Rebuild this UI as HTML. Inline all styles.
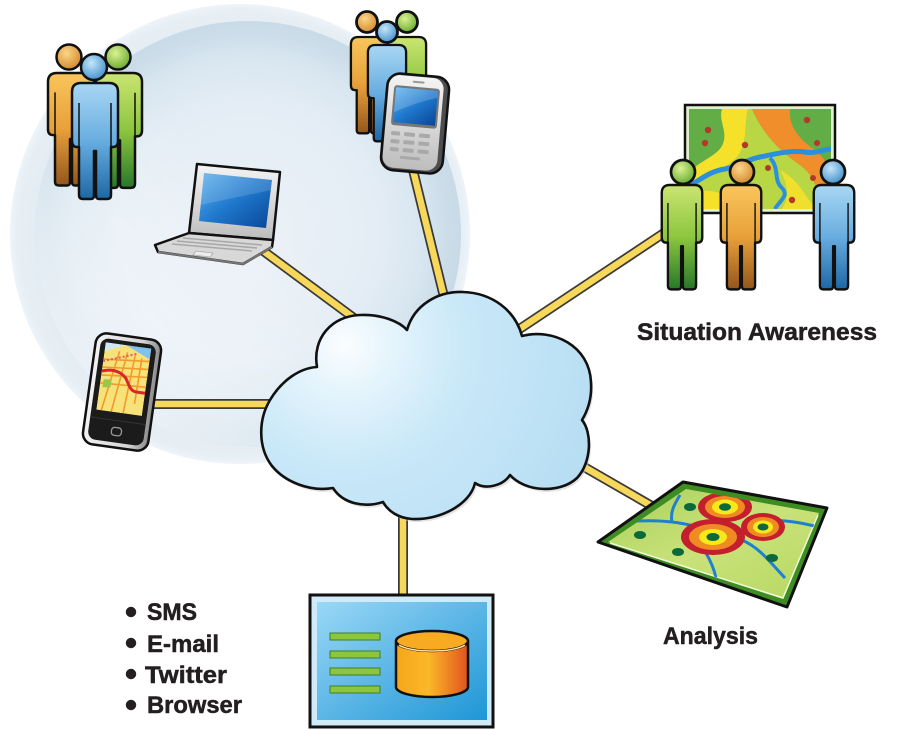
<!DOCTYPE html>
<html><head><meta charset="utf-8">
<style>html,body{margin:0;padding:0;background:#fff}svg{display:block}</style></head>
<body>
<svg width="900" height="730" viewBox="0 0 900 730" xmlns="http://www.w3.org/2000/svg" xmlns:xlink="http://www.w3.org/1999/xlink">
<defs>
 <radialGradient id="ring" cx="248" cy="232" r="214" gradientUnits="userSpaceOnUse">
  <stop offset="0" stop-color="#ebf1f7"/>
  <stop offset="0.6" stop-color="#e4edf5"/>
  <stop offset="0.82" stop-color="#d8e6f0"/>
  <stop offset="0.93" stop-color="#ccdde9"/>
  <stop offset="1" stop-color="#c8dae8"/>
 </radialGradient>
 <linearGradient id="lit" x1="0.05" y1="0.95" x2="0.55" y2="0.45">
  <stop offset="0" stop-color="#ffffff" stop-opacity="0.8"/>
  <stop offset="0.5" stop-color="#ffffff" stop-opacity="0.35"/>
  <stop offset="1" stop-color="#ffffff" stop-opacity="0"/>
 </linearGradient>
 <radialGradient id="outerG" cx="240" cy="234" r="230" gradientUnits="userSpaceOnUse">
  <stop offset="0.85" stop-color="#e2ebf2"/>
  <stop offset="0.97" stop-color="#e7eff5"/>
  <stop offset="1" stop-color="#eef4f8"/>
 </radialGradient>
 <linearGradient id="gO" x1="0" y1="0" x2="0" y2="1">
  <stop offset="0" stop-color="#f9c65c"/><stop offset="0.5" stop-color="#e8a03a"/><stop offset="1" stop-color="#93561c"/>
 </linearGradient>
 <linearGradient id="gB" x1="0" y1="0" x2="0" y2="1">
  <stop offset="0" stop-color="#a9d7f3"/><stop offset="0.5" stop-color="#68ade0"/><stop offset="1" stop-color="#1d67a6"/>
 </linearGradient>
 <linearGradient id="gG" x1="0" y1="0" x2="0" y2="1">
  <stop offset="0" stop-color="#cbe571"/><stop offset="0.5" stop-color="#8cc63f"/><stop offset="1" stop-color="#27772a"/>
 </linearGradient>
 <radialGradient id="hO" cx="0.4" cy="0.35" r="0.7"><stop offset="0" stop-color="#fcd687"/><stop offset="1" stop-color="#d0862a"/></radialGradient>
 <radialGradient id="hB" cx="0.4" cy="0.35" r="0.7"><stop offset="0" stop-color="#c4e6f9"/><stop offset="1" stop-color="#3f8ccb"/></radialGradient>
 <radialGradient id="hG" cx="0.4" cy="0.35" r="0.7"><stop offset="0" stop-color="#dcf292"/><stop offset="1" stop-color="#63a82d"/></radialGradient>
 <linearGradient id="scr" x1="0" y1="0" x2="1" y2="1">
  <stop offset="0" stop-color="#5fb2ee"/><stop offset="0.5" stop-color="#1f78cc"/><stop offset="1" stop-color="#0a4597"/>
 </linearGradient>
 <linearGradient id="silver" x1="0" y1="0" x2="0" y2="1">
  <stop offset="0" stop-color="#f4f4f4"/><stop offset="1" stop-color="#bdbdbd"/>
 </linearGradient>
 <linearGradient id="silverH" x1="0" y1="0" x2="1" y2="0">
  <stop offset="0" stop-color="#f2f2f2"/><stop offset="0.7" stop-color="#d6d6d6"/><stop offset="1" stop-color="#8a8a8a"/>
 </linearGradient>
 <radialGradient id="cloudG" cx="345" cy="345" r="270" gradientUnits="userSpaceOnUse">
  <stop offset="0" stop-color="#fbfdff"/><stop offset="0.18" stop-color="#e4f4fc"/><stop offset="0.45" stop-color="#c9e8f8"/><stop offset="1" stop-color="#b6ddf3"/>
 </radialGradient>
 <radialGradient id="cloudD" cx="552" cy="432" r="60" gradientUnits="userSpaceOnUse">
  <stop offset="0" stop-color="#6fb9e3" stop-opacity="0.95"/><stop offset="1" stop-color="#9fd2ee" stop-opacity="0"/>
 </radialGradient>
 <linearGradient id="boxG" x1="0" y1="0" x2="1" y2="1">
  <stop offset="0" stop-color="#9ad8f6"/><stop offset="0.5" stop-color="#5cb6e6"/><stop offset="1" stop-color="#1e97d6"/>
 </linearGradient>
 <linearGradient id="cylG" x1="0" y1="0" x2="1" y2="0">
  <stop offset="0" stop-color="#f5a61a"/><stop offset="0.45" stop-color="#fbb828"/><stop offset="1" stop-color="#e0531f"/>
 </linearGradient>
 <linearGradient id="mapG" x1="0" y1="0" x2="1" y2="1">
  <stop offset="0" stop-color="#a9d05a"/><stop offset="0.5" stop-color="#c9e27a"/><stop offset="1" stop-color="#b6d862"/>
 </linearGradient>
 <path id="body" d="M-23,9 Q-23,0 -14,0 L14,0 Q23,0 23,9 L23,58 Q23,64 18,64 L16,64 L16,112 Q16,116 12,116 L4,116 Q1,116 1,112 L1,68 L-1,68 L-1,112 Q-1,116 -4,116 L-12,116 Q-16,116 -16,112 L-16,64 L-18,64 Q-23,64 -23,58 Z"/>
 <path id="arms" d="M-16,20 V64 M16,20 V64"/>
 <clipPath id="boardClip"><rect x="689" y="109" width="142" height="100"/></clipPath>
 <clipPath id="mapClip"><polygon points="686,489 819,513 783,599 608,542"/></clipPath>
 <clipPath id="spClip"><rect x="-23" y="-47" width="46" height="68"/></clipPath>
</defs>

<rect width="900" height="730" fill="#fff"/>
<!-- background bubble -->
<circle cx="240" cy="234" r="230" fill="url(#outerG)"/>
<circle cx="248" cy="234" r="213" fill="url(#ring)"/>
<circle cx="248" cy="234" r="213" fill="url(#lit)"/>

<!-- connectors -->
<g stroke-linecap="butt">
 <g stroke="#3a3a3a" stroke-width="10">
  <line x1="148" y1="404" x2="280" y2="404"/>
  <line x1="262" y1="250" x2="362" y2="324"/>
  <line x1="413" y1="170" x2="446" y2="305"/>
  <line x1="515" y1="332" x2="670" y2="229"/>
  <line x1="572" y1="460" x2="657" y2="509"/>
  <line x1="403" y1="505" x2="403" y2="598"/>
 </g>
 <g stroke="#f8d85a" stroke-width="6.5">
  <line x1="148" y1="404" x2="280" y2="404"/>
  <line x1="262" y1="250" x2="362" y2="324"/>
  <line x1="413" y1="170" x2="446" y2="305"/>
  <line x1="515" y1="332" x2="670" y2="229"/>
  <line x1="572" y1="460" x2="657" y2="509"/>
  <line x1="403" y1="505" x2="403" y2="598"/>
 </g>
</g>

<!-- cloud -->
<g>
 <path transform="translate(2,3)" fill="#c9c9c9" opacity="0.5" d="M317,367 C312,338 332,316 360,315 C382,314 400,322 407,330 C414,305 438,291 463,292 C492,293 515,310 522,336 C552,328 590,345 591,383 C592,398 588,410 582,420 C592,432 592,462 577,478 C560,494 525,492 510,475 C503,486 485,490 475,483 C470,505 440,520 412,519 C398,518 388,511 383,502 C365,508 343,504 333,488 C310,492 285,482 272,466 C258,448 258,420 270,400 C282,380 300,368 317,367 Z"/>
 <path id="cloud" fill="url(#cloudG)" d="M317,367 C312,338 332,316 360,315 C382,314 400,322 407,330 C414,305 438,291 463,292 C492,293 515,310 522,336 C552,328 590,345 591,383 C592,398 588,410 582,420 C592,432 592,462 577,478 C560,494 525,492 510,475 C503,486 485,490 475,483 C470,505 440,520 412,519 C398,518 388,511 383,502 C365,508 343,504 333,488 C310,492 285,482 272,466 C258,448 258,420 270,400 C282,380 300,368 317,367 Z"/>
 <use xlink:href="#cloud" href="#cloud" fill="url(#cloudD)"/>
 <use xlink:href="#cloud" href="#cloud" fill="none" stroke="#111" stroke-width="2.6" stroke-linejoin="round"/>
</g>

<!-- left people group -->
<g stroke="#111" stroke-width="2.5" stroke-linejoin="round">
 <circle cx="69" cy="57" r="12.5" fill="url(#hO)"/>
 <circle cx="118" cy="57" r="12.5" fill="url(#hG)"/>
 <use href="#body" xlink:href="#body" fill="url(#gO)" transform="translate(71,73) scale(1,0.97)"/>
 <use href="#body" xlink:href="#body" fill="url(#gG)" transform="translate(119,73) scale(1,0.99)"/>
 <use href="#arms" xlink:href="#arms" fill="none" stroke-width="1.5" transform="translate(71,73) scale(1,0.97)"/>
 <use href="#arms" xlink:href="#arms" fill="none" stroke-width="1.5" transform="translate(119,73) scale(1,0.99)"/>
 <use href="#body" xlink:href="#body" fill="url(#gB)" transform="translate(95,83)"/>
 <use href="#arms" xlink:href="#arms" fill="none" stroke-width="1.5" transform="translate(95,83)"/>
 <circle cx="94" cy="67" r="13" fill="url(#hB)"/>
</g>

<!-- top people group -->
<g stroke="#111" stroke-width="2.8" stroke-linejoin="round">
 <circle cx="367" cy="22" r="10.5" fill="url(#hO)"/>
 <circle cx="407" cy="22" r="10.5" fill="url(#hG)"/>
 <use href="#body" xlink:href="#body" fill="url(#gO)" transform="translate(370,37) scale(0.83)"/>
 <use href="#body" xlink:href="#body" fill="url(#gG)" transform="translate(407,37) scale(0.83)"/>
 <use href="#body" xlink:href="#body" fill="url(#gB)" transform="translate(387,45) scale(0.83)"/>
 <circle cx="387" cy="32" r="10.5" fill="url(#hB)"/>
</g>

<!-- blackberry -->
<g transform="translate(415,124) rotate(5)">
 <rect x="-31" y="-49" width="62" height="97" rx="13" fill="#4d4d4d" stroke="#111" stroke-width="2.5"/>
 <rect x="-29.5" y="-47.5" width="55" height="93" rx="11" fill="url(#silver)"/>
 <rect x="-6" y="-43" width="12" height="2" rx="1" fill="#999"/>
 <rect x="-24" y="-37" width="46" height="40" rx="3" fill="#777"/>
 <rect x="-22" y="-35" width="42" height="35" fill="url(#scr)"/>
 <path d="M-22,-35 L20,-35 L20,-28 Q0,-22 -22,-10 Z" fill="#fff" opacity="0.18"/>
 <g fill="#a9a9a9">
  <rect x="-23" y="9" width="9" height="4" rx="1"/><rect x="-10" y="9" width="11" height="4" rx="1"/><rect x="5" y="9" width="11" height="4" rx="1"/>
  <rect x="-23" y="17" width="9" height="4" rx="1"/><rect x="-10" y="17" width="11" height="4" rx="1"/><rect x="5" y="17" width="11" height="4" rx="1"/>
  <rect x="-23" y="25" width="9" height="4" rx="1"/><rect x="-10" y="25" width="11" height="4" rx="1"/><rect x="5" y="25" width="11" height="4" rx="1"/>
  <rect x="-12" y="33" width="20" height="3" rx="1"/>
 </g>
</g>

<!-- laptop -->
<g stroke-linejoin="round">
 <polygon points="197,164 280,172 273,240 189,233" fill="url(#silver)" stroke="#111" stroke-width="2.5"/>
 <polygon points="204,173 272,180 266,228 199,221" fill="url(#scr)"/>
 <polygon points="204,173 272,180 271,190 200,205" fill="#fff" opacity="0.15"/>
 <path d="M189,233 L273,240 L272,247 L243,264 L158,252 L155,245 Z" fill="#d8d8d8" stroke="#111" stroke-width="2.5"/>
 <path d="M158,252 L243,264 L272,247" fill="none" stroke="#777" stroke-width="2"/>
 <g stroke="#a8a8a8" stroke-width="1.6">
  <line x1="183" y1="238" x2="262" y2="245"/>
  <line x1="177" y1="241" x2="257" y2="248"/>
  <line x1="172" y1="244" x2="252" y2="251"/>
 </g>
 <polygon points="196,251 213,253 210,257 193,255" fill="#ececec" stroke="#aaa" stroke-width="0.8"/>
</g>

<!-- smartphone -->
<g transform="translate(122,392) rotate(8)">
 <rect x="-33" y="-56" width="66" height="112" rx="11" fill="url(#silverH)" stroke="#111" stroke-width="2.5"/>
 <rect x="-28" y="-51" width="56" height="102" rx="8" fill="#1b1b1b"/>
 <g clip-path="url(#spClip)">
  <rect x="-23" y="-47" width="46" height="68" fill="#f7e27a"/>
  <polygon points="-2,-47 23,-47 23,-36" fill="#7fc2ee"/>
  <polygon points="-23,-47 -2,-47 -23,-38" fill="#cfe7f5"/>
  <g stroke="#f29a2a" stroke-width="1.6" fill="none">
   <path d="M-8,-40 L-18,21"/><path d="M0,-40 L-8,21"/><path d="M8,-38 L4,21"/><path d="M15,-36 L14,10"/>
   <path d="M-23,-30 L23,-34"/><path d="M-23,-22 L23,-26"/><path d="M-23,-14 L23,-18"/><path d="M-23,-6 L23,-8"/>
  </g>
  <path d="M-23,-18 C-12,-22 -4,-20 2,-14 C6,-8 8,-2 14,-2 L23,-2" stroke="#d8262a" stroke-width="3" fill="none"/>
  <path d="M-23,-28 L10,-40" stroke="#e85a6a" stroke-width="2" stroke-dasharray="2,2" fill="none"/>
  <polygon points="-20,-10 -12,-11 -12,-3 -20,-2" fill="#9cc64a"/>
 </g>
 <line x1="-28" y1="29" x2="28" y2="29" stroke="#333" stroke-width="1"/>
 <rect x="-5" y="36" width="10" height="8" rx="3" fill="none" stroke="#999" stroke-width="1.3"/>
</g>

<!-- situation awareness board -->
<rect x="685" y="105" width="150" height="108" fill="#e2f0cf" stroke="#111" stroke-width="2.5"/>
<g clip-path="url(#boardClip)">
 <rect x="689" y="109" width="142" height="100" fill="#62ad46"/>
 <path d="M722,109 L748,109 C744,126 748,142 738,156 C726,170 706,172 689,190 L689,172 C702,160 716,156 722,146 C729,132 718,122 722,109 Z" fill="#f6e12a"/>
 <path d="M748,109 L752,109 C762,132 778,150 800,165 C815,176 822,195 816,209 L760,209 C748,196 728,196 714,209 L689,209 L689,190 C706,172 726,170 738,156 C748,142 744,126 748,109 Z" fill="#b9d645"/>
 <path d="M689,196 C704,186 722,192 732,200 C740,206 750,208 756,209 L689,209 Z" fill="#f6e12a"/>
 <path d="M752,109 L790,109 C788,126 800,140 815,150 C828,160 831,175 831,185 L831,209 L816,209 C822,195 815,176 800,165 C778,150 762,132 752,109 Z" fill="#ef8e2a"/>
 <path d="M780,170 C792,176 800,186 806,196 L816,209 L782,209 C788,200 790,188 780,170 Z" fill="#f6e12a" opacity="0.9"/>
 <path d="M689,186 C700,180 710,171 725,169 C740,166 745,160 760,157 C775,154 790,150 805,152 C815,154 825,149 831,149" stroke="#2b8fdb" stroke-width="5" fill="none"/>
 <path d="M770,158 C780,168 773,180 782,188 C790,196 778,202 775,209" stroke="#2b8fdb" stroke-width="4" fill="none"/>
 <g fill="#b23a27">
  <circle cx="708" cy="130" r="3.2"/><circle cx="705" cy="143" r="3.2"/><circle cx="745" cy="145" r="3.2"/>
  <circle cx="807" cy="120" r="3.2"/><circle cx="817" cy="143" r="3"/><circle cx="768" cy="168" r="3"/>
  <circle cx="792" cy="200" r="3.2"/><circle cx="813" cy="178" r="3"/>
 </g>
</g>

<!-- situation awareness people -->
<g stroke="#111" stroke-width="2.7" stroke-linejoin="round">
 <use href="#body" xlink:href="#body" fill="url(#gG)" transform="translate(682,185) scale(0.88,0.9)"/>
 <use href="#arms" xlink:href="#arms" fill="none" stroke-width="1.6" transform="translate(682,185) scale(0.88,0.9)"/>
 <circle cx="683" cy="172" r="12" fill="url(#hG)"/>
 <use href="#body" xlink:href="#body" fill="url(#gO)" transform="translate(741,185) scale(0.88,0.9)"/>
 <use href="#arms" xlink:href="#arms" fill="none" stroke-width="1.6" transform="translate(741,185) scale(0.88,0.9)"/>
 <circle cx="742" cy="172" r="12" fill="url(#hO)"/>
 <use href="#body" xlink:href="#body" fill="url(#gB)" transform="translate(834,185) scale(0.88,0.9)"/>
 <use href="#arms" xlink:href="#arms" fill="none" stroke-width="1.6" transform="translate(834,185) scale(0.88,0.9)"/>
 <circle cx="833" cy="172" r="12" fill="url(#hB)"/>
</g>

<!-- analysis map -->
<g>
 <polygon points="683,482 827,508 787,607 598,542" fill="#3d8d22" stroke="#111" stroke-width="3" stroke-linejoin="round"/>
 <polygon points="686,489 819,513 783,599 608,542" fill="url(#mapG)"/>
 <polyline points="610,543 783,598 818,515" fill="none" stroke="#f2fadc" stroke-width="1.5"/>
 <g clip-path="url(#mapClip)">
  <g stroke="#1f80d2" stroke-width="3" fill="none">
   <path d="M680,495 C674,505 670,512 672,522"/>
   <path d="M605,525 C630,520 655,520 672,522 C690,524 700,528 712,530"/>
   <path d="M760,520 C785,520 800,522 822,528"/>
   <path d="M742,540 C760,548 770,562 785,578"/>
   <path d="M706,553 C710,560 714,568 716,578"/>
  </g>
  <g fill="#0c6a3a">
   <ellipse cx="690" cy="507" rx="6" ry="4"/>
   <ellipse cx="640" cy="535" rx="6" ry="4"/>
   <ellipse cx="678" cy="552" rx="6" ry="4"/>
   <ellipse cx="772" cy="558" rx="6" ry="4"/>
  </g>
  <g>
   <ellipse cx="725" cy="507" rx="27" ry="15" fill="#c41f2d"/>
   <ellipse cx="725" cy="507" rx="20" ry="11" fill="#f08a22"/>
   <ellipse cx="725" cy="507" rx="13" ry="7.5" fill="#f8ea1a"/>
   <ellipse cx="725" cy="507" rx="6" ry="3.8" fill="#0c6a3a"/>
   <ellipse cx="763" cy="527" rx="22" ry="14" fill="#c41f2d"/>
   <ellipse cx="763" cy="527" rx="16" ry="10" fill="#f08a22"/>
   <ellipse cx="763" cy="527" rx="10" ry="6.5" fill="#f8ea1a"/>
   <ellipse cx="763" cy="527" rx="5.5" ry="3.5" fill="#0c6a3a"/>
   <ellipse cx="713" cy="537" rx="32" ry="18" fill="#c41f2d"/>
   <ellipse cx="713" cy="537" rx="24" ry="13" fill="#f08a22"/>
   <ellipse cx="713" cy="537" rx="14" ry="8" fill="#f8ea1a"/>
   <ellipse cx="713" cy="537" rx="6.5" ry="4" fill="#0c6a3a"/>
  </g>
 </g>
</g>

<!-- server box -->
<g>
 <rect x="310" y="595" width="183" height="132" fill="#cfeaf8" stroke="#111" stroke-width="3"/>
 <rect x="317" y="602" width="170" height="118" fill="url(#boxG)"/>
 <g fill="#8cc63f" stroke="#3f7f25" stroke-width="1">
  <rect x="330" y="633" width="50" height="7"/>
  <rect x="330" y="651" width="50" height="7"/>
  <rect x="330" y="668" width="50" height="7"/>
  <rect x="330" y="686" width="50" height="7"/>
 </g>
 <path d="M396,641 L396,687 A36,10 0 0 0 468,687 L468,641 Z" fill="url(#cylG)" stroke="#111" stroke-width="2.5" stroke-linejoin="round"/>
 <ellipse cx="432" cy="641" rx="36" ry="10" fill="#f8ab22" stroke="#111" stroke-width="2.5"/>
 <path d="M399,645 A35,9 0 0 0 465,645" fill="none" stroke="#fde2a0" stroke-width="1.5"/>
</g>

<!-- text -->
<g font-family="'Liberation Sans', Arial, sans-serif" font-weight="bold" font-size="24" fill="#231f20" stroke="#231f20" stroke-width="0.5">
 <text x="637" y="340" textLength="240" lengthAdjust="spacingAndGlyphs">Situation Awareness</text>
 <text x="663" y="644" textLength="95" lengthAdjust="spacingAndGlyphs">Analysis</text>
 <circle cx="131" cy="612" r="5"/>
 <circle cx="131" cy="643" r="5"/>
 <circle cx="131" cy="674" r="5"/>
 <circle cx="131" cy="705" r="5"/>
 <text x="147" y="620" textLength="50" lengthAdjust="spacingAndGlyphs">SMS</text>
 <text x="147" y="652" textLength="72" lengthAdjust="spacingAndGlyphs">E-mail</text>
 <text x="145" y="683" textLength="82" lengthAdjust="spacingAndGlyphs">Twitter</text>
 <text x="147" y="713" textLength="95" lengthAdjust="spacingAndGlyphs">Browser</text>
</g>
</svg>
</body></html>
